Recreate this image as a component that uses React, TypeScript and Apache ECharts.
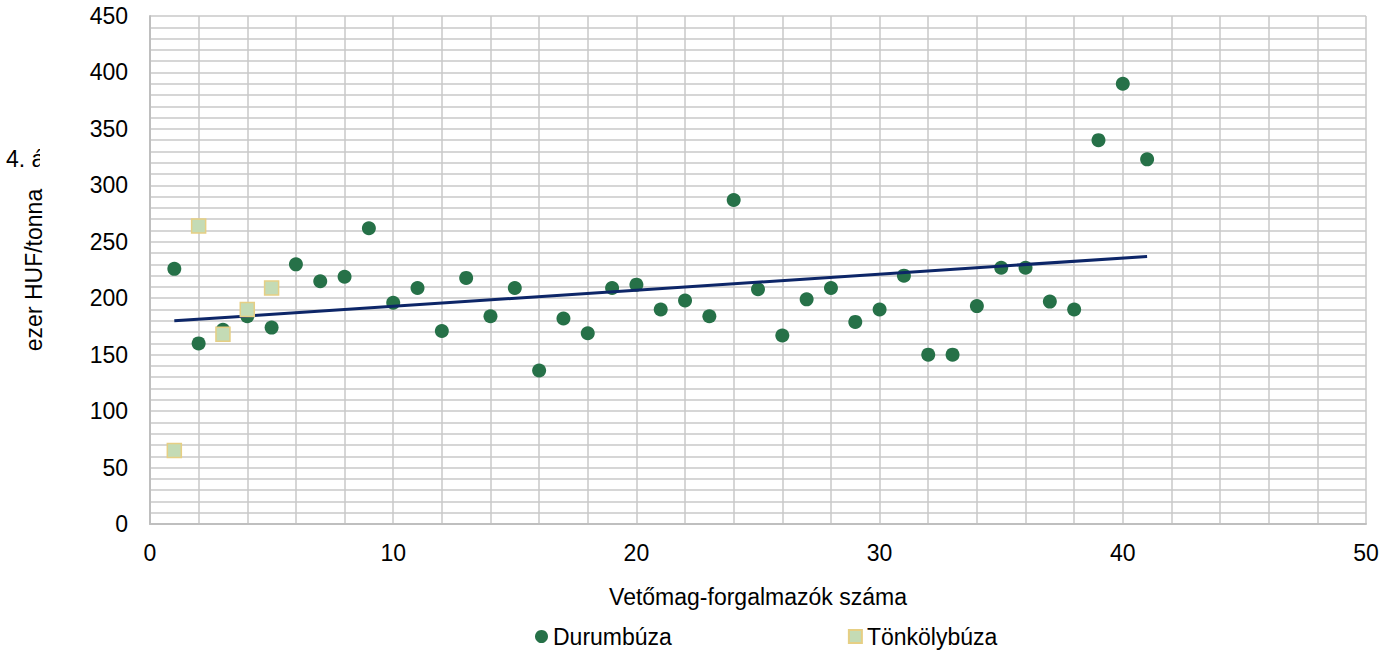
import React, { useEffect, useRef } from "react";
import * as echarts from "echarts";

const durumX = [1,2,3,4,5,6,7,8,9,10,11,12,13,14,15,16,17,18,19,20,21,22,23,24,25,26,27,28,29,30,31,32,33,34,35,36,37,38,39,40,41];
const durumY = [226,160,172,184,174,230,215,219,262,196,209,171,218,184,209,136,182,169,209,212,190,198,184,287,208,167,199,209,179,190,220,150,150,193,227,227,197,190,340,390,323];
const tonkolyX = [1,2,3,4,5];
const tonkolyY = [65,264,168,190,209];
const trendX = [1,41];
const trendY = [180,237];

const seriesNames = ["Durumbúza", "Tönkölybúza"];
const xTitle = "Vetőmag-forgalmazók száma";
const yTitle = "ezer HUF/tonna";

export default function App() {
  const ref = useRef<HTMLDivElement>(null);
  useEffect(() => {
    if (!ref.current) return;
    const chart = echarts.init(ref.current, null, { renderer: "svg" });
    const font = "Liberation Sans, Arial, sans-serif";
    const grid = "#c8c8c8";
    const fs = 23;
    chart.setOption({
      animation: false,
      textStyle: { fontFamily: font },
      grid: { left: 150, right: 29, top: 16, bottom: 128 },
      graphic: [
        { type: "text", left: 6, top: 147, style: { text: "4. á", font: `${fs}px ${font}`, fill: "#000" }, z: 1 },
        { type: "rect", shape: { x: 40, y: 140, width: 40, height: 36 }, style: { fill: "#fff" }, z: 2 },
      ],
      legend: {
        left: 530,
        top: 620,
        itemWidth: 13,
        itemHeight: 13,
        itemGap: 176,
        textStyle: { fontSize: fs, color: "#000", fontFamily: font },
        data: [
          { name: seriesNames[0], icon: "circle" },
          { name: seriesNames[1], icon: "rect" },
        ],
      },
      xAxis: {
        type: "value",
        min: 0,
        max: 50,
        interval: 10,
        name: xTitle,
        nameLocation: "middle",
        nameGap: 61,
        nameTextStyle: { fontSize: fs, color: "#000" },
        axisLine: { show: true, lineStyle: { color: "#bfbfbf", width: 2 } },
        axisTick: { show: false },
        axisLabel: { fontSize: fs, color: "#000", margin: 17 },
        splitLine: { show: true, lineStyle: { color: grid, width: 1.5 } },
        minorSplitLine: { show: true, lineStyle: { color: grid, width: 1.5 } },
        minorTick: { show: false, splitNumber: 5 },
      },
      yAxis: {
        type: "value",
        min: 0,
        max: 450,
        interval: 50,
        name: yTitle,
        nameLocation: "middle",
        nameGap: 105,
        nameTextStyle: { fontSize: fs, color: "#000" },
        axisLine: { show: true, lineStyle: { color: "#bfbfbf", width: 2 } },
        axisTick: { show: false },
        axisLabel: { fontSize: fs, color: "#000", margin: 22 },
        splitLine: { show: true, lineStyle: { color: grid, width: 1.5 } },
        minorSplitLine: { show: true, lineStyle: { color: grid, width: 1.5 } },
        minorTick: { show: false, splitNumber: 5 },
      },
      series: [
        {
          name: seriesNames[0],
          type: "scatter",
          symbol: "circle",
          symbolSize: 14,
          itemStyle: { color: "#267148", opacity: 1 },
          data: durumX.map((x, i) => [x, durumY[i]]),
          z: 3,
        },
        {
          name: seriesNames[1],
          type: "scatter",
          symbol: "rect",
          symbolSize: 14,
          itemStyle: { color: "#c4dbb5", borderColor: "#e6cf84", borderWidth: 1.5, opacity: 1 },
          data: tonkolyX.map((x, i) => [x, tonkolyY[i]]),
          z: 5,
        },
        {
          name: "trend",
          type: "line",
          symbol: "none",
          lineStyle: { color: "#0d2668", width: 3 },
          data: trendX.map((x, i) => [x, trendY[i]]),
          z: 4,
          silent: true,
        },
      ],
    });
    return () => chart.dispose();
  }, []);
  return <div ref={ref} style={{ width: 1395, height: 652, position: "absolute", left: 0, top: 0, background: "#fff" }} />;
}
